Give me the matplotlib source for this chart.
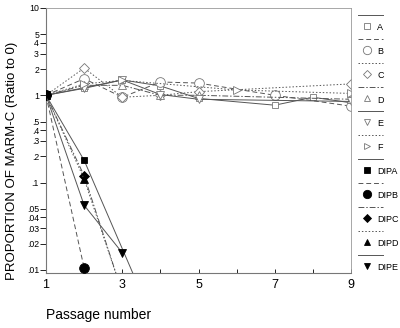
import matplotlib
matplotlib.use("Agg")
import matplotlib.pyplot as plt
from matplotlib.lines import Line2D
from matplotlib.ticker import FixedLocator, FixedFormatter, NullLocator

plt.rcParams["font.family"] = ["Liberation Sans", "DejaVu Sans"]

# passage series (open markers)
a_x = [1, 2, 3, 4, 5, 7, 8, 9]
a_y = [1.0, 1.22, 1.5, 1.28, 0.92, 0.77, 0.95, 0.82]
b_x = [1, 2, 3, 4, 5, 7, 9]
b_y = [1.0, 1.55, 0.95, 1.42, 1.38, 1.0, 0.75]
c_x = [1, 2, 3, 4, 5, 9]
c_y = [1.0, 2.05, 0.95, 1.0, 1.1, 1.35]
d_x = [1, 2, 3, 4, 5, 9]
d_y = [1.0, 1.3, 1.3, 1.0, 1.0, 0.9]
e_x = [1, 2, 3, 4, 5, 9]
e_y = [1.0, 1.2, 1.5, 1.02, 0.9, 0.85]
f_x = [1, 2, 3, 6, 9]
f_y = [1.0, 1.35, 1.48, 1.15, 1.05]

# DI particle series (filled markers)
dipa_x = [1, 2, 4]
dipa_y = [1.0, 0.18, 0.0017]
dipb_x = [1, 2]
dipb_y = [1.0, 0.0105]
dipc_x = [1, 2, 3]
dipc_y = [1.0, 0.12, 0.0055]
dipd_x = [1, 2, 3]
dipd_y = [1.0, 0.11, 0.0055]
dipe_x = [1, 2, 3]
dipe_y = [1.0, 0.055, 0.0157]

y_ticks = [10, 5, 4, 3, 2, 1, .5, .4, .3, .2, .1, .05, .04, .03, .02, .01]
y_tick_labels = ["10", "5", "4", "3", "2", "1", ".5", ".4", ".3", ".2", ".1",
                 ".05", ".04", ".03", ".02", ".01"]
x_ticks = [1, 3, 5, 7, 9]

series = [
    ("A", a_x, a_y, "s", "-", False),
    ("B", b_x, b_y, "o", (0, (5, 3)), False),
    ("C", c_x, c_y, "D", (0, (1.5, 2)), False),
    ("D", d_x, d_y, "^", (0, (6, 2, 1.5, 2)), False),
    ("E", e_x, e_y, "v", "-", False),
    ("F", f_x, f_y, ">", (0, (1.5, 2)), False),
    ("DIPA", dipa_x, dipa_y, "s", "-", True),
    ("DIPB", dipb_x, dipb_y, "o", (0, (5, 3)), True),
    ("DIPC", dipc_x, dipc_y, "D", (0, (6, 2, 1.5, 2)), True),
    ("DIPD", dipd_x, dipd_y, "^", (0, (1.5, 2)), True),
    ("DIPE", dipe_x, dipe_y, "v", "-", True),
]
marker_sizes = {"s": 5, "o": 7, "D": 5, "^": 6, "v": 6, ">": 6}

fig = plt.figure(figsize=(4.0, 3.28), dpi=100)
ax = fig.add_axes([46 / 400, 1 - 273 / 328, 305 / 400, 265 / 328])

line_col = "#555555"
for name, xs, ys, mk, ls, filled in series:
    ax.plot(xs, ys, color=line_col, linestyle=ls, linewidth=0.7,
            marker=mk, markersize=marker_sizes[mk],
            markerfacecolor="black" if filled else "white",
            markeredgecolor="black" if filled else "#777777",
            markeredgewidth=0.6, zorder=3 if filled else 2)

ax.set_yscale("log")
ax.set_ylim(0.0092, 10)
ax.set_xlim(1, 9)
ax.yaxis.set_major_locator(FixedLocator(y_ticks))
ax.yaxis.set_major_formatter(FixedFormatter(y_tick_labels))
ax.yaxis.set_minor_locator(NullLocator())
ax.set_xticks(x_ticks)
ax.set_xticks([2, 4, 6, 8], minor=True)
ax.tick_params(axis="y", direction="out", length=4, width=0.6, labelsize=6.3, pad=1)
ax.tick_params(axis="x", which="both", direction="in", length=3, width=0.6,
               labelsize=9, pad=4)
for side in ("top", "right"):
    ax.spines[side].set_color("#999999")
    ax.spines[side].set_linewidth(0.6)
for side in ("left", "bottom"):
    ax.spines[side].set_color("#777777")
    ax.spines[side].set_linewidth(0.8)

fig.text(12 / 400, 1 - 161 / 328, "PROPORTION OF MARM-C (Ratio to 0)",
         rotation=90, ha="center", va="center", fontsize=9.5)
fig.text(46 / 400, 1 - 315 / 328, "Passage number", ha="left", va="center",
         fontsize=10)

# legend: line segment on top, marker and label below
for i, (name, xs, ys, mk, ls, filled) in enumerate(series):
    y_line = 1 - (15 + 24 * i) / 328
    y_mark = 1 - (26 + 24 * i) / 328
    fig.add_artist(Line2D([358 / 400, 383 / 400], [y_line, y_line],
                          color=line_col, linestyle=ls, linewidth=0.7))
    fig.add_artist(Line2D([367 / 400], [y_mark], marker=mk,
                          markersize=marker_sizes[mk] - 1,
                          markerfacecolor="black" if filled else "white",
                          markeredgecolor="black" if filled else "#777777",
                          markeredgewidth=0.6, linestyle="none"))
    fig.text(377 / 400, y_mark - 2 / 328, name, fontsize=6.5, ha="left",
             va="center")

fig.savefig("out.png", dpi=100)
